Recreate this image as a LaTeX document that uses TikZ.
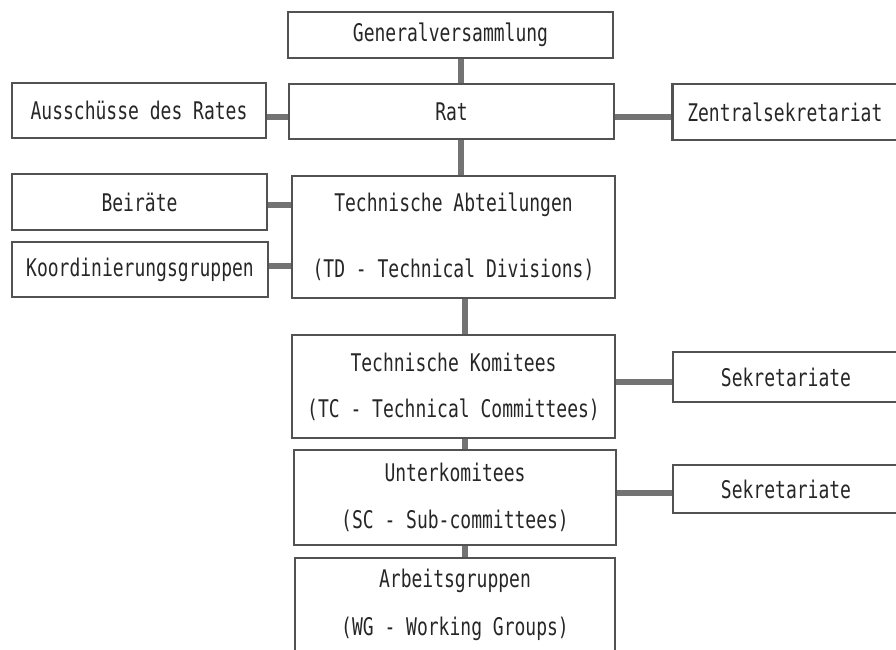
\documentclass[tikz,border=0pt]{standalone}
\usepackage{fontspec}
\setmonofont{DejaVu Sans Mono}
\usepackage{graphicx}
\newcommand\vs[1]{\scalebox{1}[1.35]{#1}}
\begin{document}
\begin{tikzpicture}[x=1pt,y=-1pt,
  box/.style={draw=black!68, line width=2.6pt, rectangle, inner sep=0pt,
    font=\ttfamily\fontsize{18}{22}\selectfont, text=black!85, align=center},
  conn/.style={draw=black!55, line width=5.5pt}]
\useasboundingbox (0,0) rectangle (896,649);
\clip (0,0) rectangle (896,649);
% main column
\node[box, minimum width=325, minimum height=46] (gen) at (450.5,35) {\vs{Generalversammlung}};
\node[box, minimum width=325, minimum height=55] (rat) at (451.5,111.5) {\vs{Rat}};
\node[box, minimum width=323, minimum height=122] (td) at (453.5,237)
  {\vs{Technische Abteilungen}\\[41pt]\vs{(TD - Technical Divisions)}};
\node[box, minimum width=323, minimum height=103] (tc) at (453.5,386.5)
  {\vs{Technische Komitees}\\[24pt]\vs{(TC - Technical Committees)}};
\node[box, minimum width=322, minimum height=95] (sc) at (455,497.5)
  {\vs{Unterkomitees}\\[25pt]\vs{(SC - Sub-committees)}};
\node[box, minimum width=320, minimum height=94] (wg) at (455,605)
  {\vs{Arbeitsgruppen}\\[24pt]\vs{(WG - Working Groups)}};
% left column
\node[box, minimum width=254, minimum height=55] (aus) at (139,110.5) {\vs{Ausschüsse des Rates}};
\node[box, minimum width=255, minimum height=56] (bei) at (139.5,202) {\vs{Beiräte}};
\node[box, minimum width=256, minimum height=55] (koo) at (140,269.5) {\vs{Koordinierungsgruppen}};
% right column
\node[box, minimum height=56, text width=220, inner xsep=15pt, align=left, anchor=west] (zen) at (671,112) {\vs{Zentralsekretariat}};
\node[box, minimum width=226, minimum height=50] (sek1) at (786,377) {\vs{Sekretariate}};
\node[box, minimum width=226, minimum height=48] (sek2) at (786,489) {\vs{Sekretariate}};
% connectors
\coordinate (c1) at (461,0);
\coordinate (c2) at (465,0);
\draw[conn] (gen.south -| c1) -- (rat.north -| c1);
\draw[conn] (rat.south -| c1) -- (td.north -| c1);
\draw[conn] (td.south -| c2) -- (tc.north -| c2);
\draw[conn] (tc.south -| c2) -- (sc.north -| c2);
\draw[conn] (sc.south -| c2) -- (wg.north -| c2);
\coordinate (h1) at (0,117);
\coordinate (h2) at (0,205);
\coordinate (h3) at (0,266);
\coordinate (h4) at (0,382);
\coordinate (h5) at (0,493);
\draw[conn] (aus.east |- h1) -- (rat.west |- h1);
\draw[conn] (rat.east |- h1) -- (zen.west |- h1);
\draw[conn] (bei.east |- h2) -- (td.west |- h2);
\draw[conn] (koo.east |- h3) -- (td.west |- h3);
\draw[conn] (tc.east |- h4) -- (sek1.west |- h4);
\draw[conn] (sc.east |- h5) -- (sek2.west |- h5);
\end{tikzpicture}
\end{document}
